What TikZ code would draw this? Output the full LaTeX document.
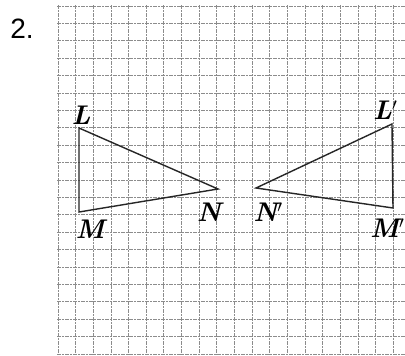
\documentclass[tikz,border=0pt]{standalone}
\usepackage{fontspec}
\newfontfamily\numfont{Liberation Sans}
\usepackage{xcolor}
\definecolor{gridgray}{HTML}{8C8C8C}
\usepackage{tikz}
\usetikzlibrary{positioning}

\begin{document}
\begin{tikzpicture}[x=1pt, y=-1pt,
    gridline/.style={gridgray, line width=0.9pt, dash pattern=on 4pt off 1pt on 2pt off 1pt},
    side/.style={black!85, line width=1.4pt},
    vlabel/.style={font=\fontsize{27}{29}\selectfont\bfseries\itshape, inner sep=0pt}]
  \useasboundingbox (0,0) rectangle (405,356);
  \fill[white] (0,0) rectangle (405,356);

  % squared paper
  \begin{scope}
    \clip (57,5) rectangle (405,355);
    \foreach \k in {0,...,19}
      \draw[gridline] ({58+17.65*\k},5) -- ({58+17.65*\k},355);
    \foreach \k in {0,...,20}
      \draw[gridline] (57,{6+17.4*\k}) -- (405,{6+17.4*\k});
  \end{scope}

  \node[anchor=center, font=\numfont\fontsize{28}{30}\selectfont] (num) at (22,29) {2.};

  % triangle LMN
  \coordinate (L) at (79,128);
  \coordinate (M) at (79,212);
  \coordinate (N) at (218,189);
  \draw[side] (L) -- (M) -- (N) -- cycle;
  \node[vlabel] (lL) at (81,115) {L};
  \node[vlabel] (lM) at (90,229) {M};
  \node[vlabel] (lN) at (209,212) {N};

  % image L'M'N'
  \coordinate (L2) at (392,124);
  \coordinate (M2) at (393,208);
  \coordinate (N2) at (256,188);
  \draw[side] (L2) -- (M2) -- (N2) -- cycle;
  \node[vlabel, anchor=west] (lL2) at (373,110) {L$'$};
  \node[vlabel, anchor=west] (lM2) at (370,228) {M$'$};
  \node[vlabel] (lN2) at (268,212) {N$'$};
\end{tikzpicture}
\end{document}
